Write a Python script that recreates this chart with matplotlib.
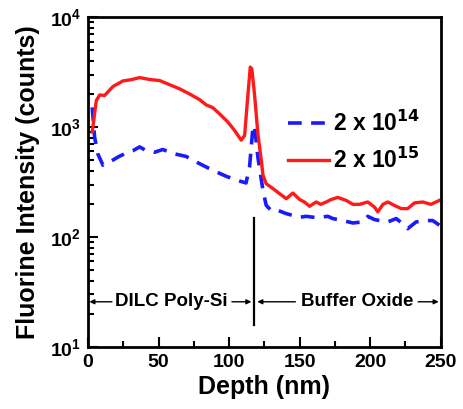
import matplotlib
matplotlib.use('Agg')
import matplotlib.pyplot as plt
from matplotlib.ticker import LogLocator, MultipleLocator, NullFormatter

plt.rcParams['font.family'] = ['Liberation Sans', 'DejaVu Sans']
plt.rcParams['font.weight'] = 'bold'
plt.rcParams['mathtext.default'] = 'bf'

# 2 x 10^15 dose (red, solid)
depth_15 = [3, 5.9, 8.3, 11.8, 17.7, 24.8, 30.7, 36.6, 43.7, 50.8, 57.8, 64.9, 72, 79,
            83.8, 88.5, 93.2, 99.2, 103.9, 108.6, 111, 112.6, 115, 116.1, 118, 120.4,
            122.8, 124, 126.3, 131, 135.7, 140.5, 145.2, 150, 153.4, 157, 161.7, 165,
            168.8, 172.3, 177, 183, 187.7, 192.4, 198.3, 203, 205.4, 209, 212.5, 217,
            222, 226.6, 231.3, 237.3, 243, 249]
counts_15 = [900, 1740, 1960, 1940, 2340, 2630, 2700, 2820, 2710, 2650, 2430, 2230, 2000, 1780,
             1590, 1500, 1320, 1110, 930, 760, 840, 1510, 3510, 3390, 2000, 870,
             500, 365, 305, 276, 248, 223, 251, 219, 208, 190, 208, 198,
             208, 219, 229, 215, 198, 198, 208, 187, 169, 198, 208, 194,
             181, 181, 204, 208, 198, 215]

# 2 x 10^14 dose (blue, dashed)
depth_14 = [3, 4.7, 7, 10.6, 15.3, 21.2, 27, 31.9, 36.6, 41.3, 47.2, 53, 60.2, 69.6, 79,
            88.5, 98, 107.4, 112, 114.5, 116.9, 118, 120.4, 124, 126.3, 129.8, 133.4,
            140.5, 145.2, 150, 154.6, 161.7, 170, 173.5, 180.6, 187.7, 194.8, 198.3,
            203, 207.7, 212.5, 218.4, 223, 226.6, 232.5, 239.6, 244.3, 249]
counts_14 = [1510, 810, 570, 450, 480, 533, 580, 610, 660, 610, 590, 625, 575, 540, 465,
             404, 356, 323, 310, 433, 1000, 1035, 533, 265, 194, 174, 177,
             163, 157, 151, 154, 150, 154, 147, 141, 134, 137, 154,
             144, 140, 137, 147, 132, 119, 137, 141, 141, 128]

interface_depth = 117.6

fig = plt.figure(figsize=(4.63, 4.09), dpi=100)
ax = fig.add_axes([0.19, 0.152, 0.762, 0.806])

ax.plot(depth_14, counts_14, color='#1a1aff', lw=2.6, ls=(0, (3.8, 2.6)), label='2 x 10$^{14}$')
ax.plot(depth_15, counts_15, color='#ff1a1a', lw=2.4, label='2 x 10$^{15}$')

ax.set_yscale('log')
ax.set_xlim(0, 250)
ax.set_ylim(10, 1e4)

# interface marker and region labels
ax.plot([interface_depth, interface_depth], [15.8, 148], color='black', lw=1.6)
arrow_y = 25.7
ap = dict(arrowstyle='-|>', color='black', lw=1.0, mutation_scale=7, shrinkA=0, shrinkB=0)
ax.annotate('', xy=(1, arrow_y), xytext=(17, arrow_y), arrowprops=ap)
ax.annotate('', xy=(115.8, arrow_y), xytext=(102, arrow_y), arrowprops=ap)
ax.annotate('', xy=(120, arrow_y), xytext=(147, arrow_y), arrowprops=ap)
ax.annotate('', xy=(248.5, arrow_y), xytext=(234, arrow_y), arrowprops=ap)
ax.text(59, arrow_y, 'DILC Poly-Si', ha='center', va='center', fontsize=13.5, fontweight='bold')
ax.text(190.5, arrow_y, 'Buffer Oxide', ha='center', va='center', fontsize=13.5, fontweight='bold')

ax.xaxis.set_major_locator(MultipleLocator(50))
ax.xaxis.set_minor_locator(MultipleLocator(25))
ax.yaxis.set_major_locator(LogLocator(base=10, numticks=10))
ax.yaxis.set_minor_locator(LogLocator(base=10, subs=range(2, 10), numticks=10))
ax.yaxis.set_minor_formatter(NullFormatter())

ax.tick_params(which='both', direction='in', top=False, right=False, width=1.5, labelsize=14)
ax.tick_params(which='major', length=7, pad=5)
ax.tick_params(which='minor', length=4)
for s in ax.spines.values():
    s.set_linewidth(2)

ax.set_xlabel('Depth (nm)', fontsize=18, fontweight='bold', labelpad=3)
ax.set_ylabel('Fluorine Intensity (counts)', fontsize=18, fontweight='bold', labelpad=7)

ax.legend(loc='upper right', bbox_to_anchor=(1.0, 0.78), frameon=False, fontsize=16.5,
          handlelength=1.8, handletextpad=0.15, labelspacing=0.55)

fig.savefig('out.png', dpi=100)
